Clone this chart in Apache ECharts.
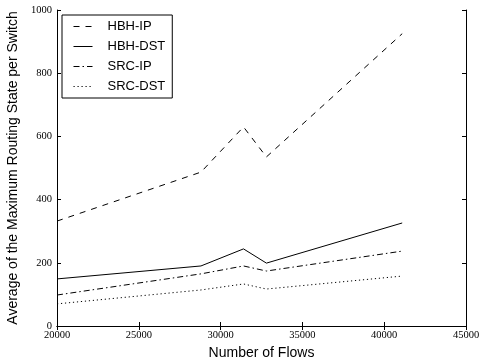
<!DOCTYPE html>
<html><head><meta charset="utf-8">
<script src="https://cdn.jsdelivr.net/npm/echarts@6/dist/echarts.min.js"></script>
<style>html,body{margin:0;padding:0;background:#fff}#c{width:482px;height:359px}</style>
</head><body><div id="c"></div>
<script>
const flows = [20000, 28800, 31400, 32800, 41100];
const hbhIp = [332, 487, 630, 535, 925];
const hbhDst = [149, 190, 244, 199, 326];
const srcIp = [98, 165, 190, 174, 237];
const srcDst = [70, 114, 133, 117, 158];
const seriesNames = ['HBH-IP', 'HBH-DST', 'SRC-IP', 'SRC-DST'];
const seriesData = [hbhIp, hbhDst, srcIp, srcDst];
const dashes = [[6, 6], 'solid', [6, 3, 1.5, 3], [1.2, 2.8]];

const chart = echarts.init(document.getElementById('c'));
const tickFont = {fontFamily: 'Liberation Serif', fontSize: 10.5, color: '#000', formatter: v => String(v)};
const axisLine = {show: true, lineStyle: {color: '#000', width: 1}};
const tick = {show: true, inside: true, length: 4, lineStyle: {color: '#000'}};
chart.setOption({
  animation: false,
  backgroundColor: '#fff',
  grid: {left: 57, right: 16, top: 10, bottom: 33, containLabel: false, outerBoundsMode: 'none'},
  legend: {
    orient: 'vertical', left: 62, top: 15,
    borderColor: '#000', borderWidth: 1, padding: [5, 7, 5, 11],
    itemWidth: 19, itemHeight: 12, itemGap: 7,
    itemStyle: {opacity: 0},
    lineStyle: {width: 1},
    textStyle: {fontFamily: 'Liberation Sans', fontSize: 13, color: '#000', padding: [0, 0, 0, 10]},
    data: seriesNames
  },
  xAxis: [{
    type: 'value', min: 20000, max: 45000, interval: 5000,
    name: 'Number of Flows', nameLocation: 'middle', nameGap: 20,
    nameTextStyle: {fontFamily: 'Liberation Sans', fontSize: 14, color: '#000'},
    axisLine: axisLine, axisTick: tick, splitLine: {show: false},
    axisLabel: Object.assign({margin: 4}, tickFont)
  }, {
    type: 'value', position: 'top', min: 20000, max: 45000, interval: 5000,
    axisLine: axisLine, axisTick: tick, splitLine: {show: false}, axisLabel: {show: false}
  }],
  yAxis: [{
    type: 'value', min: 0, max: 1000, interval: 200,
    name: 'Average of the Maximum Routing State per Switch', nameLocation: 'middle', nameGap: 34,
    nameTextStyle: {fontFamily: 'Liberation Sans', fontSize: 14, color: '#000'},
    axisLine: axisLine, axisTick: tick, splitLine: {show: false},
    axisLabel: Object.assign({margin: 5}, tickFont)
  }, {
    type: 'value', position: 'right', min: 0, max: 1000, interval: 200,
    axisLine: axisLine, axisTick: tick, splitLine: {show: false}, axisLabel: {show: false}
  }],
  series: seriesNames.map((n, i) => ({
    name: n, type: 'line', symbol: 'none', silent: true,
    data: flows.map((x, j) => [x, seriesData[i][j]]),
    lineStyle: {color: '#000', width: 1, type: dashes[i]},
    itemStyle: {color: '#000'}
  }))
});
</script></body></html>
